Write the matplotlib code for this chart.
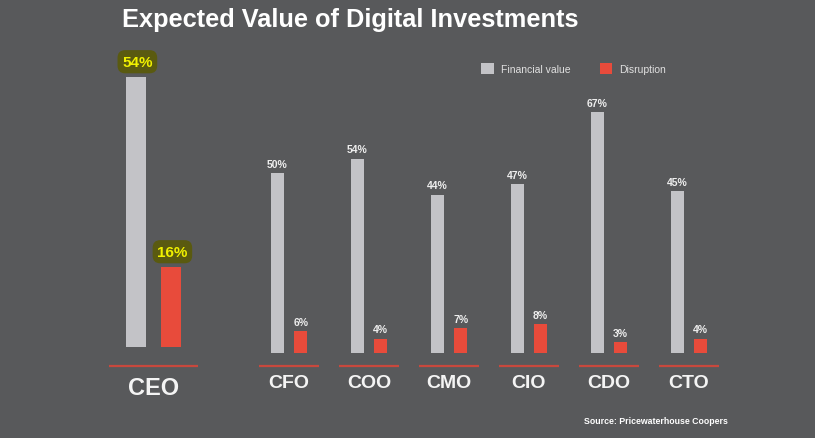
import numpy as np
import matplotlib
matplotlib.use('Agg')
import matplotlib.pyplot as plt
from matplotlib.patches import Patch

# Dados
roles = ['CFO', 'COO', 'CMO', 'CIO', 'CDO', 'CTO']
financial = [50, 54, 44, 47, 67, 45]
disruption = [6, 4, 7, 8, 3, 4]
ceo_label = 'CEO'
ceo_financial = 54
ceo_disruption = 16

# Cores
BG = '#58595b'
GREY = '#c3c3c7'
RED = '#e84b3b'
LINE = '#c8483d'
TXT = '#f4f4f4'

plt.rcParams['font.family'] = ['Liberation Sans', 'DejaVu Sans']

W, H = 815, 439
fig = plt.figure(figsize=(W / 100, H / 100), dpi=100, facecolor=BG)


def px_axes(left, top, width, height):
    # eixos posicionados em pixels da figura
    ax = fig.add_axes([left / W, 1 - (top + height) / H, width / W, height / H])
    ax.set_facecolor(BG)
    ax.axis('off')
    return ax


bw = 0.17   # largura da barra
off = 0.146  # deslocamento do centro das barras

## CEO (desenhado numa escala maior)
ax_ceo = px_axes(93.5, 38, 120, 370)
ax_ceo.set_xlim(-0.5, 0.5)
ax_ceo.set_ylim(-12, 62)
ax_ceo.bar([-off], [ceo_financial], width=bw, color=GREY)
ax_ceo.bar([off], [ceo_disruption], width=bw, color=RED)
ax_ceo.hlines(-3.7, -0.37, 0.37, color=LINE, lw=1.6)
ax_ceo.text(0, -8.2, ceo_label, ha='center', va='center', color=TXT,
            fontsize=17, fontweight='bold')
for xpos, val in [(-off, ceo_financial), (off, ceo_disruption)]:
    ax_ceo.annotate(f'{val}%', (xpos, val), xytext=(1, 11), textcoords='offset points',
                    ha='center', va='center', color='#f0f000', fontsize=11, fontweight='bold',
                    bbox=dict(boxstyle='round,pad=0.3,rounding_size=0.5', fc='#5a5a10', ec='none'))

## Demais cargos
ax = px_axes(249, 102, 480, 295.2)
x = np.arange(len(roles))
ax.set_xlim(-0.5, len(roles) - 0.5)
ax.set_ylim(-12, 70)
ax.bar(x - off, financial, width=bw, color=GREY)
ax.bar(x + off, disruption, width=bw, color=RED)
ax.hlines([-3.6] * len(roles), x - 0.375, x + 0.375, color=LINE, lw=1.6)
for i in range(len(roles)):
    ax.text(x[i], -8.3, roles[i], ha='center', va='center', color=TXT,
            fontsize=14, fontweight='bold')
    ax.annotate(f'{financial[i]}%', (x[i] - off, financial[i]), xytext=(0, 3),
                textcoords='offset points', ha='center', va='bottom',
                color='#eeeeee', fontsize=7.5, fontweight='bold')
    ax.annotate(f'{disruption[i]}%', (x[i] + off, disruption[i]), xytext=(0, 3),
                textcoords='offset points', ha='center', va='bottom',
                color='#eeeeee', fontsize=7.5, fontweight='bold')

# Título, legenda e fonte
fig.text(122 / W, 1 - 26.7 / H, 'Expected Value of Digital Investments', ha='left',
         va='baseline', color='white', fontsize=18.3, fontweight='bold')

handles = [Patch(facecolor=GREY, edgecolor='none', label='Financial value'),
           Patch(facecolor=RED, edgecolor='none', label='Disruption')]
fig.legend(handles=handles, loc='upper left', bbox_to_anchor=(481 / W, 1 - 64 / H),
           ncol=2, frameon=False, fontsize=7.5, handlelength=1.2, handleheight=1.2,
           handletextpad=0.7, columnspacing=2.8, borderpad=0, borderaxespad=0,
           labelcolor='#e0e0e0')

fig.text(584 / W, 1 - 421.7 / H, 'Source: Pricewaterhouse Coopers', ha='left', va='center',
         color='white', fontsize=6.3, fontweight='bold')

fig.savefig('out.png', dpi=100, facecolor=BG)
